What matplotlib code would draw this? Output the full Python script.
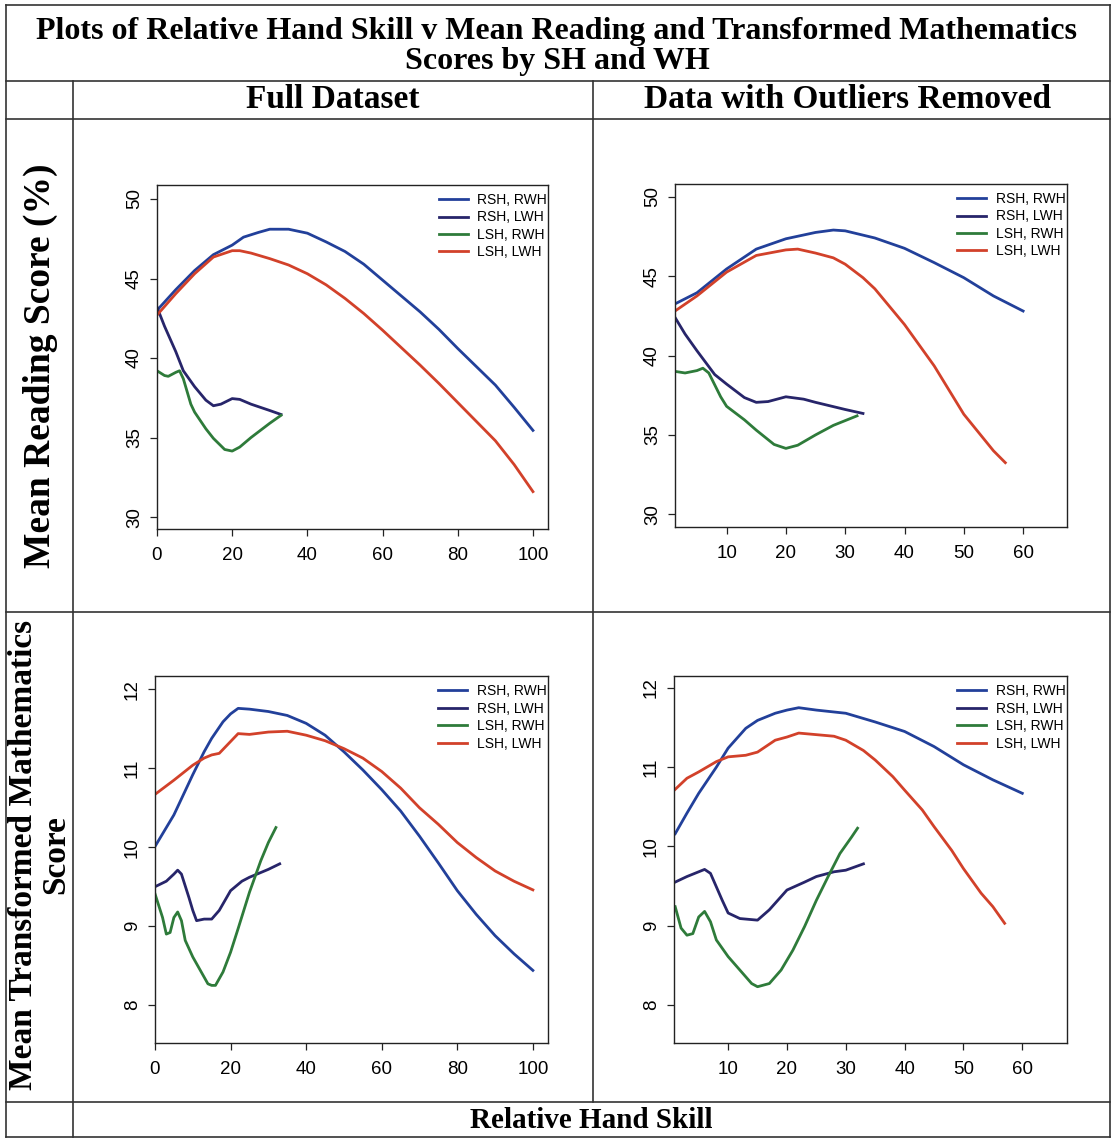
import matplotlib.pyplot as plt
from matplotlib.lines import Line2D

# ---- data ----
labels = ["RSH, RWH", "RSH, LWH", "LSH, RWH", "LSH, LWH"]
colors = ["#22409a", "#27256a", "#2e7b3a", "#d2412a"]

# Full dataset, reading
full_read_rr_x = [0, 5, 10, 15, 20, 23, 27, 30, 35, 40, 45, 50, 55, 60, 65, 70, 75, 80, 85, 90, 95, 100]
full_read_rr_y = [43.0, 44.3, 45.5, 46.5, 47.1, 47.6, 47.9, 48.1, 48.1, 47.85, 47.3, 46.7, 45.9, 44.9, 43.9, 42.9, 41.8, 40.6, 39.45, 38.3, 36.9, 35.45]
full_read_rl_x = [0, 2, 5, 7, 10, 13, 15, 17, 20, 22, 25, 30, 33]
full_read_rl_y = [43.2, 42.0, 40.4, 39.2, 38.2, 37.35, 37.0, 37.1, 37.45, 37.4, 37.1, 36.7, 36.45]
full_read_lr_x = [0, 2, 3, 5, 6, 7, 9, 10, 13, 15, 18, 20, 22, 25, 30, 33]
full_read_lr_y = [39.2, 38.9, 38.85, 39.1, 39.2, 38.7, 37.1, 36.6, 35.55, 34.95, 34.25, 34.15, 34.4, 35.0, 35.9, 36.4]
full_read_ll_x = [0, 5, 10, 15, 20, 22, 25, 30, 35, 40, 45, 50, 55, 60, 65, 70, 75, 80, 85, 90, 95, 100]
full_read_ll_y = [42.7, 44.05, 45.3, 46.35, 46.75, 46.75, 46.6, 46.25, 45.85, 45.3, 44.6, 43.75, 42.8, 41.75, 40.65, 39.55, 38.4, 37.2, 36.0, 34.8, 33.3, 31.6]

# Outliers removed, reading
trim_read_rr_x = [1.3, 5, 10, 15, 20, 25, 28, 30, 35, 40, 45, 50, 55, 60]
trim_read_rr_y = [43.25, 43.95, 45.45, 46.7, 47.35, 47.75, 47.9, 47.85, 47.4, 46.75, 45.85, 44.9, 43.75, 42.8]
trim_read_rl_x = [1.3, 3, 5, 8, 10, 13, 15, 17, 20, 23, 25, 30, 33]
trim_read_rl_y = [42.4, 41.35, 40.3, 38.8, 38.2, 37.35, 37.05, 37.1, 37.4, 37.25, 37.05, 36.6, 36.35]
trim_read_lr_x = [1.3, 3, 5, 6, 7, 9, 10, 13, 15, 18, 20, 22, 25, 28, 30, 32]
trim_read_lr_y = [39.0, 38.9, 39.05, 39.2, 38.9, 37.4, 36.8, 35.95, 35.3, 34.4, 34.15, 34.35, 35.0, 35.6, 35.9, 36.2]
trim_read_ll_x = [1.3, 5, 10, 15, 20, 22, 25, 28, 30, 33, 35, 40, 45, 50, 55, 57]
trim_read_ll_y = [42.8, 43.75, 45.25, 46.3, 46.65, 46.7, 46.45, 46.15, 45.75, 44.9, 44.2, 41.95, 39.35, 36.3, 34.0, 33.25]

# Full dataset, mathematics
full_math_rr_x = [0, 5, 10, 13, 15, 18, 20, 22, 25, 30, 35, 40, 45, 50, 55, 60, 65, 70, 75, 80, 85, 90, 95, 100]
full_math_rr_y = [10.01, 10.41, 10.92, 11.21, 11.38, 11.59, 11.69, 11.76, 11.75, 11.72, 11.67, 11.57, 11.42, 11.21, 10.98, 10.73, 10.46, 10.14, 9.8, 9.45, 9.15, 8.88, 8.65, 8.44]
full_math_rl_x = [0, 3, 5, 6, 7, 9, 10, 11, 13, 15, 17, 20, 23, 25, 30, 33]
full_math_rl_y = [9.5, 9.57, 9.66, 9.71, 9.66, 9.36, 9.2, 9.07, 9.09, 9.09, 9.2, 9.45, 9.57, 9.62, 9.72, 9.79]
full_math_lr_x = [0, 2, 3, 4, 5, 6, 7, 8, 10, 12, 14, 15, 16, 18, 20, 22, 25, 28, 30, 32]
full_math_lr_y = [9.41, 9.11, 8.9, 8.92, 9.11, 9.18, 9.07, 8.82, 8.61, 8.44, 8.27, 8.25, 8.25, 8.42, 8.67, 8.97, 9.43, 9.83, 10.06, 10.25]
full_math_ll_x = [0, 5, 10, 13, 15, 17, 20, 22, 25, 30, 35, 40, 45, 50, 55, 60, 65, 70, 75, 80, 85, 90, 95, 100]
full_math_ll_y = [10.67, 10.85, 11.04, 11.13, 11.17, 11.19, 11.34, 11.44, 11.43, 11.46, 11.47, 11.42, 11.35, 11.25, 11.13, 10.96, 10.75, 10.5, 10.29, 10.06, 9.87, 9.7, 9.57, 9.46]

# Outliers removed, mathematics
trim_math_rr_x = [1.0, 3, 5, 8, 10, 13, 15, 18, 20, 22, 25, 30, 35, 40, 45, 50, 55, 60]
trim_math_rr_y = [10.16, 10.42, 10.67, 11.0, 11.24, 11.49, 11.59, 11.68, 11.72, 11.75, 11.72, 11.68, 11.57, 11.45, 11.26, 11.03, 10.84, 10.67]
trim_math_rl_x = [1.0, 3, 5, 6, 7, 9, 10, 12, 15, 17, 20, 23, 25, 28, 30, 33]
trim_math_rl_y = [9.55, 9.62, 9.68, 9.71, 9.66, 9.32, 9.16, 9.09, 9.07, 9.2, 9.45, 9.55, 9.62, 9.68, 9.7, 9.78]
trim_math_lr_x = [1.0, 2, 3, 4, 5, 6, 7, 8, 10, 12, 14, 15, 17, 19, 21, 23, 25, 27, 29, 31, 32]
trim_math_lr_y = [9.24, 8.97, 8.88, 8.9, 9.11, 9.18, 9.05, 8.82, 8.61, 8.44, 8.27, 8.23, 8.27, 8.44, 8.69, 8.99, 9.32, 9.62, 9.91, 10.12, 10.23]
trim_math_ll_x = [1.0, 3, 5, 8, 10, 13, 15, 18, 20, 22, 25, 28, 30, 33, 35, 38, 40, 43, 45, 48, 50, 53, 55, 57]
trim_math_ll_y = [10.72, 10.86, 10.94, 11.07, 11.13, 11.15, 11.19, 11.34, 11.38, 11.43, 11.41, 11.39, 11.34, 11.21, 11.09, 10.88, 10.71, 10.46, 10.25, 9.95, 9.72, 9.41, 9.24, 9.03]

W, H = 1113, 1139
fig = plt.figure(figsize=(W / 100, H / 100), dpi=100)
fig.patch.set_facecolor("white")


def fx(x):
    return x / W


def fy(y):
    return 1 - y / H


# table grid
def hline(y, x0, x1):
    fig.add_artist(Line2D([fx(x0), fx(x1)], [fy(y), fy(y)], color="#333333", lw=1.2))


def vline(x, y0, y1):
    fig.add_artist(Line2D([fx(x), fx(x)], [fy(y0), fy(y1)], color="#333333", lw=1.2))


for yy in [5, 81, 119, 612, 1102, 1137]:
    hline(yy, 6, 1110)
vline(6, 5, 1137)
vline(1110, 5, 1137)
vline(73, 81, 1137)
vline(593, 81, 1102)

serif = "Liberation Serif"
sans = "Liberation Sans"

fig.text(fx(557), fy(31), "Plots of Relative Hand Skill v Mean Reading and Transformed Mathematics",
         ha="center", va="center", family=serif, weight="bold", fontsize=23)
fig.text(fx(557), fy(62), "Scores by SH and WH", ha="center", va="center",
         family=serif, weight="bold", fontsize=23)
fig.text(fx(333), fy(100), "Full Dataset", ha="center", va="center",
         family=serif, weight="bold", fontsize=24)
fig.text(fx(848), fy(100), "Data with Outliers Removed", ha="center", va="center",
         family=serif, weight="bold", fontsize=24)
fig.text(fx(591), fy(1121), "Relative Hand Skill", ha="center", va="center",
         family=serif, weight="bold", fontsize=21)
fig.text(fx(40), fy(366), "Mean Reading Score (%)", ha="center", va="center",
         rotation=90, family=serif, weight="bold", fontsize=27)
fig.text(fx(40), fy(855), "Mean Transformed Mathematics\nScore", ha="center", va="center",
         rotation=90, family=serif, weight="bold", fontsize=24, linespacing=1.05)

panels = [
    # (box px: left, top, right, bottom), xlim, ylim, xticks, yticks, series
    ((157, 185, 548, 529), (0, 104), (29.25, 50.88), [0, 20, 40, 60, 80, 100], [30, 35, 40, 45, 50],
     [(full_read_rr_x, full_read_rr_y), (full_read_rl_x, full_read_rl_y),
      (full_read_lr_x, full_read_lr_y), (full_read_ll_x, full_read_ll_y)]),
    ((675, 184, 1067, 527), (1.3, 67.4), (29.2, 50.8), [10, 20, 30, 40, 50, 60], [30, 35, 40, 45, 50],
     [(trim_read_rr_x, trim_read_rr_y), (trim_read_rl_x, trim_read_rl_y),
      (trim_read_lr_x, trim_read_lr_y), (trim_read_ll_x, trim_read_ll_y)]),
    ((155, 676, 548, 1043), (0, 104), (7.52, 12.17), [0, 20, 40, 60, 80, 100], [8, 9, 10, 11, 12],
     [(full_math_rr_x, full_math_rr_y), (full_math_rl_x, full_math_rl_y),
      (full_math_lr_x, full_math_lr_y), (full_math_ll_x, full_math_ll_y)]),
    ((674, 676, 1067, 1043), (0.8, 67.6), (7.52, 12.15), [10, 20, 30, 40, 50, 60], [8, 9, 10, 11, 12],
     [(trim_math_rr_x, trim_math_rr_y), (trim_math_rl_x, trim_math_rl_y),
      (trim_math_lr_x, trim_math_lr_y), (trim_math_ll_x, trim_math_ll_y)]),
]

for (l, t, r, b), xlim, ylim, xt, yt, series in panels:
    ax = fig.add_axes([fx(l), fy(b), (r - l) / W, (b - t) / H])
    ax.set_facecolor("none")
    for (xs, ys), c, lab in zip(series, colors, labels):
        ax.plot(xs, ys, color=c, lw=2.0, label=lab)
    ax.set_xlim(*xlim)
    ax.set_ylim(*ylim)
    ax.set_xticks(xt)
    ax.set_yticks(yt)
    for sp in ax.spines.values():
        sp.set_color("#222222")
        sp.set_linewidth(1.0)
    ax.tick_params(direction="out", length=5, width=0.9, color="#222222", labelsize=13.5)
    ax.tick_params(axis="x", pad=8)
    ax.tick_params(axis="y", pad=5)
    for lbl in ax.get_xticklabels() + ax.get_yticklabels():
        lbl.set_family(sans)
    for lbl in ax.get_yticklabels():
        lbl.set_rotation(90)
        lbl.set_va("center")
    leg = ax.legend(loc="upper left", bbox_to_anchor=(0.713, 0.985), frameon=False,
                    prop={"family": sans, "size": 10}, handlelength=2.1, handletextpad=0.7,
                    labelspacing=0.25, borderpad=0.2, borderaxespad=0)
    for ln in leg.get_lines():
        ln.set_linewidth(2.0)

fig.savefig("out.png", dpi=100)
